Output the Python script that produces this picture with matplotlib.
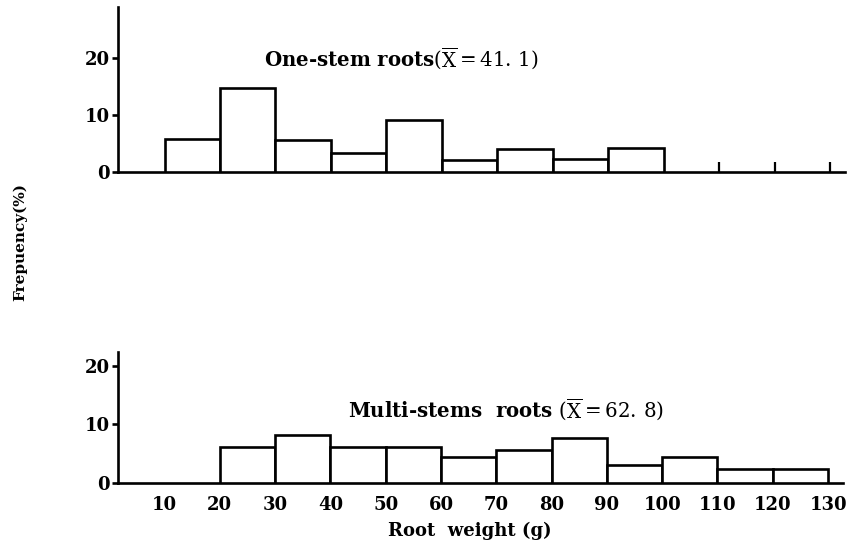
import matplotlib
matplotlib.use("Agg")
import matplotlib.pyplot as plt

# ---- data ----
bin_width = 10
bins_one = [10, 20, 30, 40, 50, 60, 70, 80, 90]
freq_one = [5.8, 14.7, 5.7, 3.4, 9.1, 2.1, 4.0, 2.3, 4.3]
bins_multi = [20, 30, 40, 50, 60, 70, 80, 90, 100, 110, 120]
freq_multi = [6.1, 8.2, 6.2, 6.2, 4.4, 5.6, 7.6, 3.0, 4.5, 2.3, 2.3]
yticks = [0, 10, 20]
xticks_bottom = [10, 20, 30, 40, 50, 60, 70, 80, 90, 100, 110, 120, 130]
xticks_top = [110, 120, 130]
label_one = r"One-stem roots$(\overline{\mathrm{X}}=41.\,1)$"
label_multi = r"Multi-stems  roots $(\overline{\mathrm{X}}=62.\,8)$"
ylabel = "Frepuency(%)"
xlabel = "Root  weight (g)"

plt.rcParams['mathtext.fontset'] = 'dejavuserif'
FONT = "DejaVu Serif"

fig = plt.figure(figsize=(8.49, 5.52), dpi=100)
ax1 = fig.add_axes([118/849, 1-172/552, (845-118)/849, (172-7)/552])
ax2 = fig.add_axes([118/849, 1-483/552, (843-118)/849, (483-352)/552])

for ax in (ax1, ax2):
    for s in ("top", "right"):
        ax.spines[s].set_visible(False)
    for s in ("left", "bottom"):
        ax.spines[s].set_linewidth(1.9)
    ax.set_xlim(1.6, 132.7)
    ax.set_yticks(yticks)
    ax.tick_params(axis="y", direction="out", length=4, width=1.9, pad=2)
    for lab in ax.get_yticklabels():
        lab.set_fontfamily(FONT)
        lab.set_fontweight("bold")
        lab.set_fontsize(13)

ax1.bar(bins_one, freq_one, width=bin_width, align="edge", facecolor="white",
        edgecolor="black", linewidth=1.9, zorder=3)
ax2.bar(bins_multi, freq_multi, width=bin_width, align="edge", facecolor="white",
        edgecolor="black", linewidth=1.9, zorder=3)

ax1.set_ylim(0, 29)
ax2.set_ylim(0, 22.3)

ax1.set_xticks(xticks_top)
ax1.set_xticklabels([])
ax1.tick_params(axis="x", direction="in", length=7, width=1.6)

ax2.set_xticks(xticks_bottom)
ax2.set_xticklabels([str(v) for v in xticks_bottom])
ax2.tick_params(axis="x", length=0, pad=9)
for lab in ax2.get_xticklabels():
    lab.set_fontfamily(FONT)
    lab.set_fontweight("bold")
    lab.set_fontsize(13)

fig.text(401/849, 1-59/552, label_one, ha="center", va="center",
         family=FONT, weight="bold", fontsize=14.2)
fig.text(506/849, 1-410/552, label_multi, ha="center", va="center",
         family=FONT, weight="bold", fontsize=14.2)
fig.text(20/849, 1-242/552, ylabel, ha="center", va="center", rotation=90,
         family=FONT, weight="bold", fontsize=11)
fig.text(470/849, 1-531/552, xlabel, ha="center", va="center",
         family=FONT, weight="bold", fontsize=13)

fig.savefig("out.png", dpi=100)
